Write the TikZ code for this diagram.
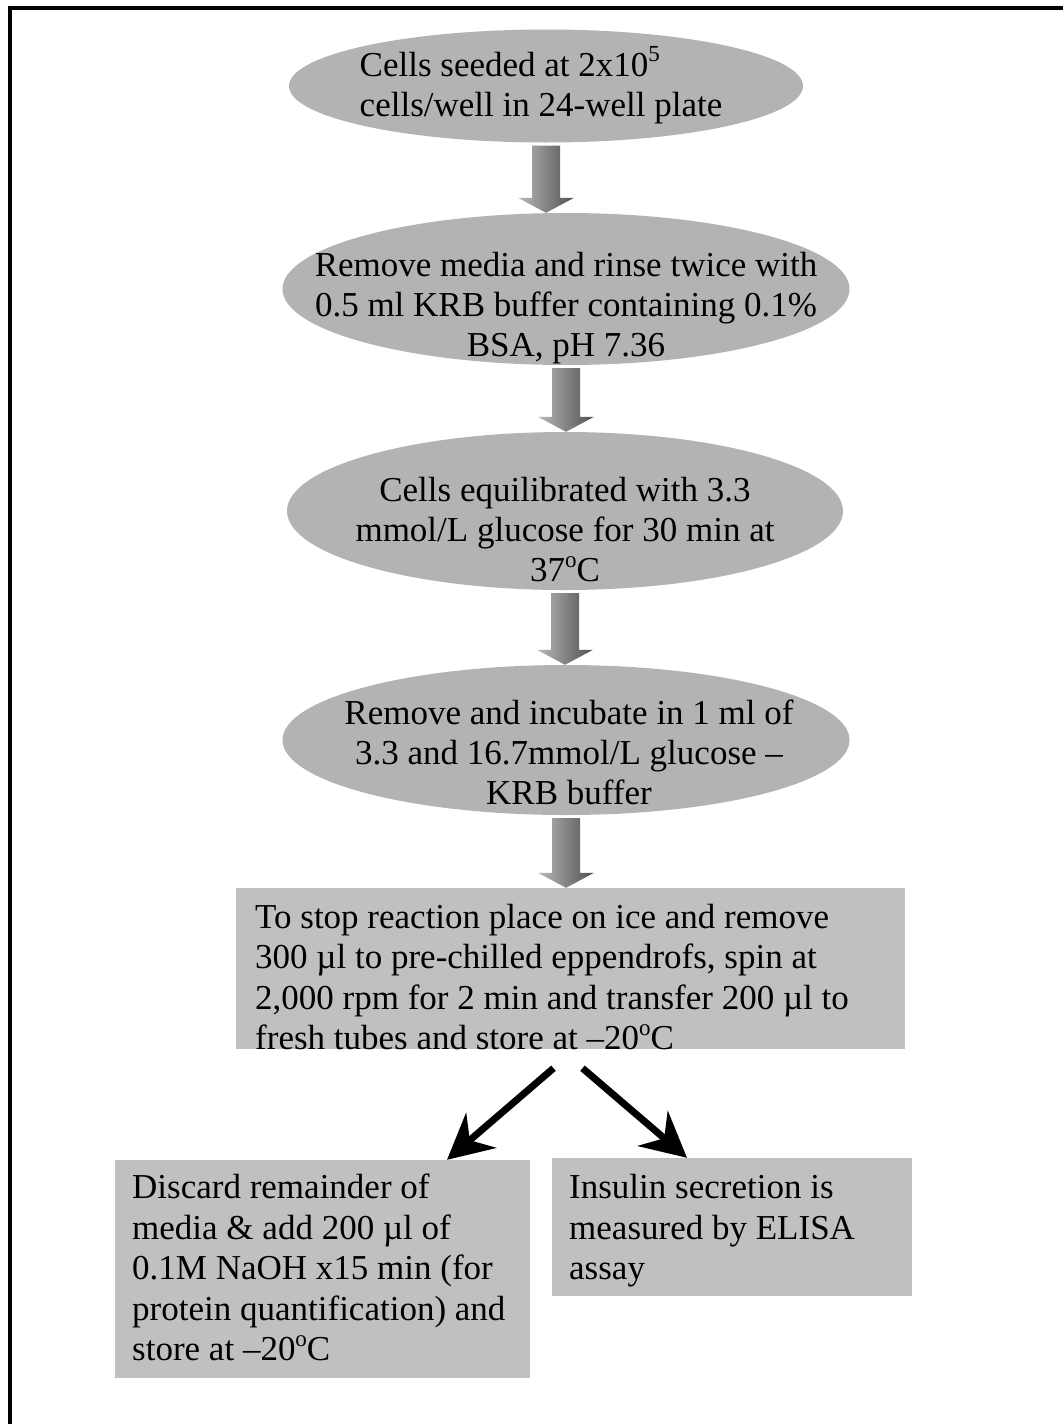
\documentclass[tikz,border=0pt]{standalone}
\usepackage{fontspec}
\setmainfont{Liberation Serif}
\usetikzlibrary{arrows.meta,calc,shapes.geometric}
\definecolor{ovalgray}{RGB}{179,179,179}
\definecolor{boxgray}{RGB}{192,192,192}
\definecolor{arrowlight}{RGB}{185,185,185}
\definecolor{arrowdark}{RGB}{80,80,80}
\tikzset{
  oval/.style={ellipse, fill=ovalgray, inner sep=0pt},
  stepbox/.style={rectangle, fill=boxgray, inner sep=0pt},
  steptext/.style={font=\fontsize{35}{40}\selectfont, inner sep=0pt},
  boxtext/.style={font=\fontsize{35}{40.5}\selectfont, inner sep=0pt, align=left, anchor=north west},
  downarrow/.style={left color=arrowlight, right color=arrowdark},
  splitarrow/.style={line width=7pt, -{Stealth[length=45pt,width=46pt,inset=15pt]}}
}
% raised small text (degree o, exponent)
\newcommand{\raisedtxt}[1]{\raisebox{0.42em}{\fontsize{23}{23}\selectfont #1}}
% shaded block arrow from one node down to the next
\newcommand{\blockarrow}[2]{%
  \shade[downarrow] let \p1=(#1.south), \p2=(#2.north) in
    (\x1-14pt,\y1-3pt) -- (\x1+14pt,\y1-3pt) -- (\x1+14pt,\y2+15pt)
    -- (\x1+28pt,\y2+15pt) -- (\x1,\y2) -- (\x1-28pt,\y2+15pt)
    -- (\x1-14pt,\y2+15pt) -- cycle;}

\begin{document}
\begin{tikzpicture}[x=1pt,y=-1pt]
        \useasboundingbox (0,0) rectangle (1063,1424);
        %frame
        \draw[line width=4pt] (10,1424) -- (10,8) -- (1063,8);

        %ovals
        \node[oval, minimum width=514pt, minimum height=113pt](e1) at (546,86){};
        \node[oval, minimum width=567pt, minimum height=152pt](e2) at (566,289){};
        \node[oval, minimum width=556pt, minimum height=158pt](e3) at (565,511){};
        \node[oval, minimum width=567pt, minimum height=150pt](e4) at (566,740){};
        \node[steptext, align=left](t1) at (541,85){Cells seeded at 2x10\raisedtxt{5}\\cells/well in 24-well plate};
        \node[steptext, align=center](t2) at (566,308){Remove media and rinse twice with\\0.5 ml KRB buffer containing 0.1\%\\BSA, pH 7.36};
        \node[steptext, align=center](t3) at (565,530){Cells equilibrated with 3.3\\mmol/L glucose for 30 min at\\37\raisedtxt{o}C};
        \node[steptext, align=center](t4) at (569,752){Remove and incubate in 1 ml of\\3.3 and 16.7mmol/L glucose --\\KRB buffer};

        %boxes
        \node[stepbox, minimum width=669pt, minimum height=161pt](b5) at (570.5,968.5){};
        \node[stepbox, minimum width=415pt, minimum height=218pt](b6) at (322.5,1269){};
        \node[stepbox, minimum width=360pt, minimum height=138pt](b7) at (732,1227){};
        \begin{scope}
          \clip (b5.south west) rectangle (b5.north east);
          \node[boxtext](t5) at (255,904){To stop reaction place on ice and remove\\300 µl to pre-chilled eppendrofs, spin at\\2,000 rpm for 2 min and transfer 200 µl to\\fresh tubes and store at --20\raisedtxt{o}C};
        \end{scope}
        \node[boxtext](t6) at (132,1174){Discard remainder of\\media \& add 200 µl of\\0.1M NaOH x15 min (for\\protein quantification) and\\store at --20\raisedtxt{o}C};
        \node[boxtext](t7) at (569,1174){Insulin secretion is\\measured by ELISA\\assay};

        %arrows
        \blockarrow{e1}{e2}
        \blockarrow{e2}{e3}
        \blockarrow{e3}{e4}
        \blockarrow{e4}{b5}
        \draw[splitarrow] ([xshift=-17pt,yshift=-19pt]b5.south) -- ([xshift=124.5pt]b6.north);
        \draw[splitarrow] ([xshift=12pt,yshift=-19pt]b5.south) -- ([xshift=-45pt]b7.north);
\end{tikzpicture}
\end{document}
